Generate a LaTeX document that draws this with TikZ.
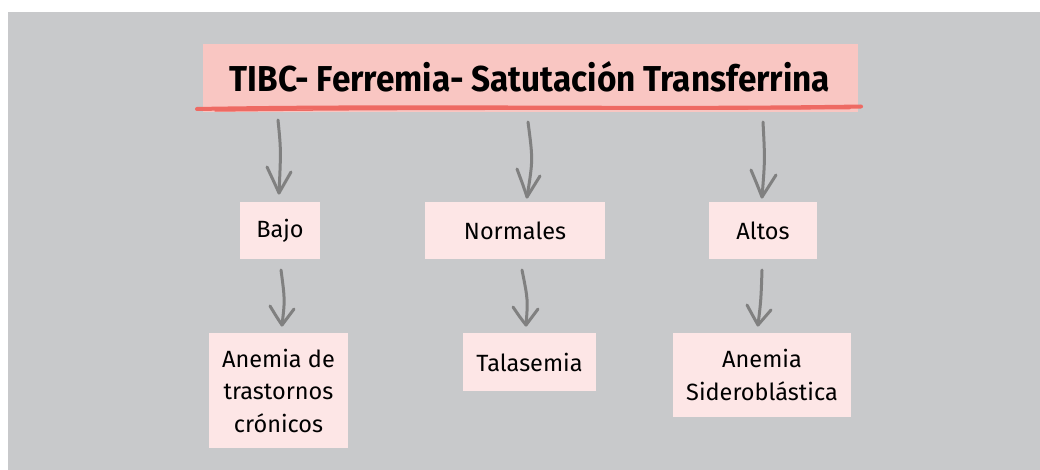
\documentclass[tikz,border=0pt]{standalone}
\usepackage{fontspec}
\usepackage{graphicx}
\setmainfont{Fira Sans}
\usetikzlibrary{calc}
\definecolor{bggray}{HTML}{C8C9CB}
\definecolor{titlepink}{HTML}{F9C6C2}
\definecolor{boxpink}{HTML}{FDE6E6}
\definecolor{redline}{HTML}{EE6A63}
\definecolor{arrowgray}{HTML}{808080}
\tikzset{
  box/.style={fill=boxpink, inner sep=0pt, align=center, font=\fontsize{23.5}{32.5}\selectfont, text=black},
  titlebox/.style={fill=titlepink, inner sep=0pt, minimum width=655pt, minimum height=68pt},
  arrowline/.style={draw=arrowgray, line width=3pt, line cap=round, line join=round},
  underline/.style={draw=redline, line width=4pt, line cap=round}
}
\newcommand\handarrow[5]{%
  \draw[arrowline] (#1) .. controls (#2) .. (#3);
  \draw[arrowline] (#4) .. controls ($(#4)!0.5!(#3)+(1,2)$) .. (#3) -- (#5);
}
\begin{document}
\begin{tikzpicture}[x=1pt,y=-1pt]
\useasboundingbox (0,0) rectangle (1040,470);
\fill[bggray] (8,12) rectangle (1040,470);

% title
\node[titlebox] (title) at (530.5,78) {};
\node[font=\bfseries\fontsize{36}{40}\selectfont, anchor=base] (titletext) at (530,92)
  {\resizebox{600pt}{\height}{TIBC- Ferremia- Satutación Transferrina}};
\draw[underline] (197,109) .. controls (420,105) and (640,110) .. (861,106.5);
\draw[redline, line width=1.5pt, line cap=round] (215,111) .. controls (450,108) and (650,110) .. (850,108.5);

% first row
\node[box, minimum width=80pt, minimum height=57pt] (bajo) at (280,230.5) {Bajo};
\node[box, minimum width=180pt, minimum height=57pt] (normales) at (515,230.5) {Normales};
\node[box, minimum width=108pt, minimum height=57pt] (altos) at (763,230.5) {Altos};

% second row
\node[box, minimum width=139pt, minimum height=115pt] (cronicos) at (278.5,390.5) {Anemia de\\trastornos\\crónicos};
\node[box, minimum width=133pt, minimum height=58pt] (talasemia) at (529.5,362) {Talasemia};
\node[box, minimum width=178pt, minimum height=84pt] (sidero) at (762,375) {Anemia\\Sideroblástica};

% arrows row 1
\handarrow{278,120}{281,150}{279,193}{267,167}{291,172}
\handarrow{528,122}{533,160}{527,197}{517,169}{540,176}
\handarrow{763,122}{765,160}{762,197}{751,170}{776,175}
% arrows row 2
\handarrow{281,270}{285,300}{282,325}{270,306}{294,309}
\handarrow{522,270}{528,300}{526,325}{513,307}{538,309}
\handarrow{762,270}{761,300}{758,325}{747,305}{771,310}
\end{tikzpicture}
\end{document}
